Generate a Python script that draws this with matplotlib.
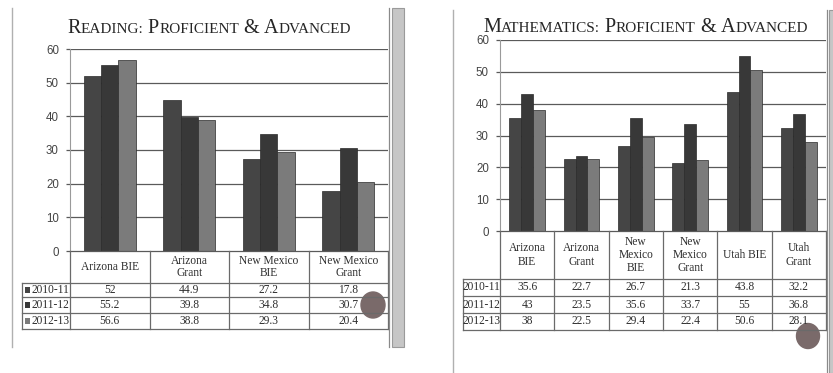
import matplotlib
matplotlib.use('Agg')
import matplotlib.pyplot as plt
from matplotlib.lines import Line2D
from matplotlib.patches import Ellipse, Rectangle

# ---------------- data ----------------
years = ['2010-11', '2011-12', '2012-13']

reading_title = 'Reading: Proficient & Advanced'
reading_cats = ['Arizona BIE', 'Arizona\nGrant', 'New Mexico\nBIE', 'New Mexico\nGrant']
reading_2010 = [52, 44.9, 27.2, 17.8]
reading_2011 = [55.2, 39.8, 34.8, 30.7]
reading_2012 = [56.6, 38.8, 29.3, 20.4]

math_title = 'Mathematics: Proficient & Advanced'
math_cats = ['Arizona\nBIE', 'Arizona\nGrant', 'New\nMexico\nBIE', 'New\nMexico\nGrant',
             'Utah BIE', 'Utah\nGrant']
math_2010 = [35.6, 22.7, 26.7, 21.3, 43.8, 32.2]
math_2011 = [43, 23.5, 35.6, 33.7, 55, 36.8]
math_2012 = [38, 22.5, 29.4, 22.4, 50.6, 28.1]

yticks = [0, 10, 20, 30, 40, 50, 60]

# ---------------- style ----------------
W, H = 833, 373
series_colors = ['#454545', '#383838', '#7b7b7b']
grid_color = '#5a5a5a'
line_color = '#6a6a6a'
text_color = '#2e2e2e'
serif = ['Liberation Serif', 'DejaVu Serif']
sans = ['Liberation Sans', 'DejaVu Sans']

fig = plt.figure(figsize=(W / 100, H / 100), dpi=100)
fig.patch.set_facecolor('white')
renderer = fig.canvas.get_renderer()


def fx(p):
    return p / W


def fy(p):
    return 1 - p / H


def hline(x0, x1, y, color=line_color, lw=0.9):
    fig.add_artist(Line2D([fx(x0), fx(x1)], [fy(y), fy(y)], color=color, lw=lw,
                          transform=fig.transFigure))


def vline(x, y0, y1, color=line_color, lw=0.9):
    fig.add_artist(Line2D([fx(x), fx(x)], [fy(y0), fy(y1)], color=color, lw=lw,
                          transform=fig.transFigure))


def smallcaps_title(x, y, text, big=14.6, small=11.0):
    """Small-caps title: every piece shares one baseline, placed left to right."""
    pieces = []
    words = text.split(' ')
    for wi, word in enumerate(words):
        pieces.append((word[0].upper(), big))
        rest = word[1:].upper()
        if rest:
            pieces.append((rest, small))
        if wi < len(words) - 1:
            pieces.append((' ', small + 1))
    cur = x
    for s, sz in pieces:
        if s == ' ':
            cur += sz * 100 / 72 * 0.28
            continue
        t = fig.text(fx(cur), fy(y), s, fontsize=sz, family=serif,
                     color='#262626', ha='left', va='baseline')
        cur += t.get_window_extent(renderer).width


def panel(box, cats, series, title, title_xy, row_edges, label_left, keys,
          fs=8.3, header_ls=1.0):
    left, top, right, bottom = box
    ax = fig.add_axes([fx(left), fy(bottom), fx(right - left), (bottom - top) / H])
    n = len(cats)
    ax.set_xlim(-0.5, n - 0.5)
    ax.set_ylim(0, 60)
    for sp in ax.spines.values():
        sp.set_visible(False)
    ax.spines['left'].set_visible(True)
    ax.spines['left'].set_color('#9a9a9a')
    ax.spines['left'].set_linewidth(0.8)
    ax.set_facecolor('none')
    ax.set_yticks(yticks)
    ax.set_xticks([])
    ax.tick_params(axis='y', length=3, width=0.9, color=grid_color, pad=5,
                   labelsize=8.3, labelcolor='#444444')
    for lab in ax.get_yticklabels():
        lab.set_family(sans)
    for t in yticks[1:]:
        ax.axhline(t, color=grid_color, lw=0.9, zorder=1)
    bw = 0.22
    xs = list(range(n))
    for k, vals in enumerate(series):
        ax.bar([x + (k - 1) * bw for x in xs], vals, width=bw,
               color=series_colors[k], edgecolor='#2a2a2a', linewidth=0.5, zorder=3)

    smallcaps_title(title_xy[0], title_xy[1], title)

    # ---- data table below the axis ----
    colx = [ax.transData.transform((i - 0.5, 0))[0] for i in range(n + 1)]
    header_bottom = row_edges[0]
    hline(colx[0], colx[-1], bottom, color=grid_color)
    for ye in row_edges:
        hline(label_left, colx[-1], ye)
    for cx in colx:
        vline(cx, bottom, row_edges[-1])
    vline(label_left, row_edges[0], row_edges[-1])

    for i, cat in enumerate(cats):
        cx = (colx[i] + colx[i + 1]) / 2
        fig.text(fx(cx), fy((bottom + header_bottom) / 2), cat, ha='center',
                 va='center', fontsize=fs, family=serif, color=text_color,
                 linespacing=header_ls, multialignment='center')
    for r, vals in enumerate(series):
        yc = (row_edges[r] + row_edges[r + 1]) / 2
        for i, v in enumerate(vals):
            cx = (colx[i] + colx[i + 1]) / 2
            fig.text(fx(cx), fy(yc), f'{v:g}', ha='center', va='center',
                     fontsize=fs, family=serif, color=text_color)
        if keys:
            fig.add_artist(Rectangle((fx(label_left + 3), fy(yc + 3)), 5 / W, 6 / H,
                                     transform=fig.transFigure,
                                     facecolor=series_colors[r], edgecolor='none'))
            fig.text(fx(label_left + 10), fy(yc), years[r], ha='left', va='center',
                     fontsize=fs, family=serif, color=text_color)
        else:
            fig.text(fx((label_left + colx[0]) / 2), fy(yc), years[r], ha='center',
                     va='center', fontsize=fs, family=serif, color=text_color)
    return ax


# ---------------- left panel: reading ----------------
panel((70, 49, 388, 251), reading_cats, [reading_2010, reading_2011, reading_2012],
      reading_title, (67, 33), [283, 297, 313, 329], 22, keys=True, header_ls=1.0)

# ---------------- right panel: mathematics ----------------
panel((500, 40, 826, 231), math_cats, [math_2010, math_2011, math_2012],
      math_title, (483, 32), [279, 296, 313, 330], 463, keys=False, header_ls=1.15)

# ---------------- slide frame decorations ----------------
vline(12, 8, 347, color='#b0b0b0', lw=1)
vline(389, 8, 347, color='#8a8a8a', lw=0.9)
fig.add_artist(Rectangle((fx(392), fy(347)), 12 / W, 339 / H, transform=fig.transFigure,
                         facecolor='#c6c6c6', edgecolor='#9a9a9a', lw=0.8))
vline(453, 10, 373, color='#b0b0b0', lw=1)
vline(827, 10, 373, color='#8a8a8a', lw=0.9)
fig.add_artist(Rectangle((fx(829), fy(373)), 6 / W, 363 / H, transform=fig.transFigure,
                         facecolor='#c6c6c6', edgecolor='#9a9a9a', lw=0.8))

# grey marker dots from the scanned slides
fig.add_artist(Ellipse((fx(373), fy(305)), 24 / W, 26 / H, transform=fig.transFigure,
                       color='#7a6a6a'))
fig.add_artist(Ellipse((fx(808), fy(336)), 23 / W, 25 / H, transform=fig.transFigure,
                       color='#7a6a6a'))

fig.savefig('out.png', dpi=100, facecolor='white')
